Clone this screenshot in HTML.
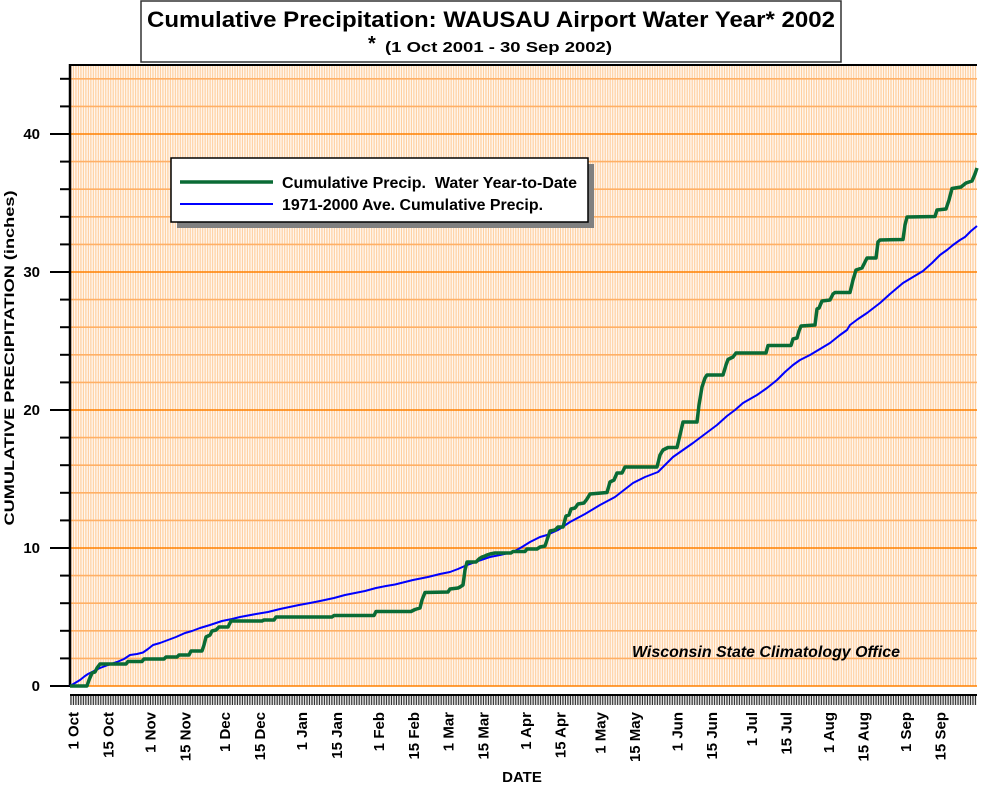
<!DOCTYPE html>
<html><head><meta charset="utf-8"><style>
html,body{margin:0;padding:0;background:#fff;}
svg{display:block;font-family:"Liberation Sans",Arial,sans-serif;}
</style></head><body>
<svg width="982" height="786" viewBox="0 0 982 786" xmlns="http://www.w3.org/2000/svg">
<defs>
<pattern id="vg" patternUnits="userSpaceOnUse" x="70" y="0" width="2.4849" height="10">
<rect x="0" y="0" width="2.4849" height="10" fill="#ffffff"/>
<rect x="0.3" y="0" width="1.35" height="10" fill="#ffcf9f"/>
</pattern>
<pattern id="tk" patternUnits="userSpaceOnUse" x="70" y="0" width="2.4849" height="10">
<rect x="0" y="0" width="2.4849" height="10" fill="#ffffff"/>
<rect x="0.3" y="0" width="1.3" height="10" fill="#303030"/>
</pattern>
</defs>
<rect width="982" height="786" fill="#fff"/>
<!-- plot background -->
<rect x="70" y="65" width="907" height="621" fill="url(#vg)"/>
<!-- horizontal grid -->
<g stroke="#ffb066" stroke-width="1.6">
<line x1="70" x2="977" y1="658.4" y2="658.4"/><line x1="70" x2="977" y1="630.8" y2="630.8"/><line x1="70" x2="977" y1="603.2" y2="603.2"/><line x1="70" x2="977" y1="575.6" y2="575.6"/>
<line x1="70" x2="977" y1="520.4" y2="520.4"/><line x1="70" x2="977" y1="492.8" y2="492.8"/><line x1="70" x2="977" y1="465.2" y2="465.2"/><line x1="70" x2="977" y1="437.6" y2="437.6"/>
<line x1="70" x2="977" y1="382.4" y2="382.4"/><line x1="70" x2="977" y1="354.8" y2="354.8"/><line x1="70" x2="977" y1="327.2" y2="327.2"/><line x1="70" x2="977" y1="299.6" y2="299.6"/>
<line x1="70" x2="977" y1="244.4" y2="244.4"/><line x1="70" x2="977" y1="216.8" y2="216.8"/><line x1="70" x2="977" y1="189.2" y2="189.2"/><line x1="70" x2="977" y1="161.6" y2="161.6"/>
<line x1="70" x2="977" y1="106.4" y2="106.4"/><line x1="70" x2="977" y1="78.8" y2="78.8"/>
</g>
<g stroke="#ff8000" stroke-width="1.6">
<line x1="70" x2="977" y1="686" y2="686"/><line x1="70" x2="977" y1="548" y2="548"/><line x1="70" x2="977" y1="410" y2="410"/><line x1="70" x2="977" y1="272" y2="272"/><line x1="70" x2="977" y1="134" y2="134"/>
</g>
<!-- tick strip -->
<rect x="70" y="696" width="907" height="9" fill="url(#tk)"/>
<line x1="70" x2="977" y1="695" y2="695" stroke="#000" stroke-width="2"/>
<!-- axes -->
<line x1="70" x2="70" y1="64" y2="687" stroke="#000" stroke-width="2.5"/>
<line x1="69" x2="977" y1="65" y2="65" stroke="#000" stroke-width="2"/>
<g stroke="#000" stroke-width="2">
<line x1="50" x2="70" y1="686" y2="686"/><line x1="50" x2="70" y1="548" y2="548"/><line x1="50" x2="70" y1="410" y2="410"/><line x1="50" x2="70" y1="272" y2="272"/><line x1="50" x2="70" y1="134" y2="134"/>
<line x1="60" x2="70" y1="658.4" y2="658.4"/><line x1="60" x2="70" y1="630.8" y2="630.8"/><line x1="60" x2="70" y1="603.2" y2="603.2"/><line x1="60" x2="70" y1="575.6" y2="575.6"/>
<line x1="60" x2="70" y1="520.4" y2="520.4"/><line x1="60" x2="70" y1="492.8" y2="492.8"/><line x1="60" x2="70" y1="465.2" y2="465.2"/><line x1="60" x2="70" y1="437.6" y2="437.6"/>
<line x1="60" x2="70" y1="382.4" y2="382.4"/><line x1="60" x2="70" y1="354.8" y2="354.8"/><line x1="60" x2="70" y1="327.2" y2="327.2"/><line x1="60" x2="70" y1="299.6" y2="299.6"/>
<line x1="60" x2="70" y1="244.4" y2="244.4"/><line x1="60" x2="70" y1="216.8" y2="216.8"/><line x1="60" x2="70" y1="189.2" y2="189.2"/><line x1="60" x2="70" y1="161.6" y2="161.6"/>
<line x1="60" x2="70" y1="106.4" y2="106.4"/><line x1="60" x2="70" y1="78.8" y2="78.8"/>
</g>
<!-- y labels -->
<g font-size="15" font-weight="bold" text-anchor="end" fill="#000">
<text x="40" y="691">0</text><text x="40" y="553">10</text><text x="40" y="415">20</text><text x="40" y="277">30</text><text x="40" y="139">40</text>
</g>
<text transform="translate(14,358) rotate(-90)" font-size="13.5" font-weight="bold" text-anchor="middle" textLength="335" lengthAdjust="spacingAndGlyphs">CUMULATIVE PRECIPITATION (inches)</text>
<!-- x labels -->
<g font-size="15" font-weight="bold" text-anchor="end" fill="#000">
<text transform="translate(78.5,712) rotate(-90)">1 Oct</text>
<text transform="translate(113.3,712) rotate(-90)">15 Oct</text>
<text transform="translate(155.5,712) rotate(-90)">1 Nov</text>
<text transform="translate(190.3,712) rotate(-90)">15 Nov</text>
<text transform="translate(230.1,712) rotate(-90)">1 Dec</text>
<text transform="translate(264.9,712) rotate(-90)">15 Dec</text>
<text transform="translate(307.1,712) rotate(-90)">1 Jan</text>
<text transform="translate(341.9,712) rotate(-90)">15 Jan</text>
<text transform="translate(384.1,712) rotate(-90)">1 Feb</text>
<text transform="translate(418.9,712) rotate(-90)">15 Feb</text>
<text transform="translate(453.7,712) rotate(-90)">1 Mar</text>
<text transform="translate(488.5,712) rotate(-90)">15 Mar</text>
<text transform="translate(530.8,712) rotate(-90)">1 Apr</text>
<text transform="translate(565.5,712) rotate(-90)">15 Apr</text>
<text transform="translate(605.3,712) rotate(-90)">1 May</text>
<text transform="translate(640.1,712) rotate(-90)">15 May</text>
<text transform="translate(682.3,712) rotate(-90)">1 Jun</text>
<text transform="translate(717.1,712) rotate(-90)">15 Jun</text>
<text transform="translate(756.9,712) rotate(-90)">1 Jul</text>
<text transform="translate(791.7,712) rotate(-90)">15 Jul</text>
<text transform="translate(833.9,712) rotate(-90)">1 Aug</text>
<text transform="translate(868.7,712) rotate(-90)">15 Aug</text>
<text transform="translate(910.9,712) rotate(-90)">1 Sep</text>
<text transform="translate(945.7,712) rotate(-90)">15 Sep</text>
</g>
<text x="522" y="782" font-size="15" font-weight="bold" text-anchor="middle">DATE</text>
<!-- series -->
<polyline fill="none" stroke="#0000ff" stroke-width="2" stroke-linejoin="round" points="70,686 75,683 80,680 85,676 88,674 94,671 100,668 108,665 117,662 124,659 130,655 137,654 143,652.5 148,649 153,645 160,643 168,640 176,637 185,633 192,631 200,628 210,625 222,621 232,619 240,617 256,614 268,612 280,609 299,605 310,603 320,601 334,598 345,595 355,593 365,591 376,588 386,586 395,584.5 405,582 413,580 428,577 440,574 450,572 458,569 467,565 478,561 490,557 500,555 513,552 522,547 530,542 540,537 547,535 558,530 570,522 585,514 600,505 615,497 633,483 645,477 658,472 665,465 673,457 683,450 693,443 705,434 717,425 727,416 735,410 743,403 750,399 757,395 767,388 777,380 785,372 793,365 800,360 810,355 820,349 830,343 840,335 847,330 850,325 858,319 867,313 880,303 890,294 903,283 913,277 923,271 932,263 940,255 947,250 953,245 960,240 965,237 971,231 977,226"/>
<polyline fill="none" stroke="#0a6b35" stroke-width="3.5" stroke-linejoin="round" points="70,686 87,686 89,680 92,673 95,672 97,668 100,664 126,664 128,661.5 142,661.5 144,659 164,659 166,657 177,657 179,655 189,655 191,651 202,651 204,645 206,637 210,635 212,631 216,630 219,627 228,627 231,621 262,621 264,620 274,620 276,617 332,617 334,615.5 374,615.5 376,611.5 411,611.5 415,609.5 420,608 422,600 425,592.5 448,592 450,589 458,588 460,587 463,585 465,570 467,562 476,562 479,559 482,557 485,556 487,555 490,554 495,553 511,553 513,551.5 525,551.5 527,549 537,549 540,547 545,546 547,540 550,531 555,530 558,527 563,527 566,516 569,515 571,509 575,508 578,504 584,503 587,499 590,494 607,492.5 610,482 614,480 617,473 622,473 625,467 657,467 660,455 663,450 668,447.5 677,447.5 680,435 683,422 697,422 699,405 702,387 705,378 707,375 723,375 726,365 728,359.5 733,357 736,353 766,353 768,345.5 791,345.5 793,339 797,338 799,331 801,326 815,325 817,309 819,308 822,301 830,300 833,294 835,292.5 850,292.5 853,280 856,270 862,268 865,262 867,258 876,258 878,242 880,240 903,239.5 905,225 907,217 935,216.5 937,210 946,209 949,200 952,188.5 961,187 966,183 972,181 975,174 977,168"/>
<!-- legend -->
<rect x="177" y="164" width="417" height="64" fill="#808080"/>
<rect x="171" y="158" width="417" height="64" fill="#fff" stroke="#000" stroke-width="1.5"/>
<line x1="180" x2="273" y1="182" y2="182" stroke="#0a6b35" stroke-width="3.5"/>
<line x1="180" x2="273" y1="204" y2="204" stroke="#0000ff" stroke-width="2"/>
<text x="282" y="188" font-size="15.5" font-weight="bold" textLength="295" lengthAdjust="spacingAndGlyphs" xml:space="preserve">Cumulative Precip.  Water Year-to-Date</text>
<text x="282" y="210" font-size="15.5" font-weight="bold" textLength="261" lengthAdjust="spacingAndGlyphs">1971-2000 Ave. Cumulative Precip.</text>
<!-- credit -->
<text x="632" y="657" font-size="15.5" font-weight="bold" font-style="italic" textLength="268" lengthAdjust="spacingAndGlyphs">Wisconsin State Climatology Office</text>
<!-- title -->
<rect x="141" y="1" width="700" height="61" fill="#fff" stroke="#333" stroke-width="1.5"/>
<text x="147" y="27" font-size="22" font-weight="bold" textLength="688" lengthAdjust="spacingAndGlyphs">Cumulative Precipitation: WAUSAU Airport Water Year* 2002</text>
<text x="368" y="50" font-size="20" font-weight="bold">*</text>
<text x="385" y="52" font-size="15" font-weight="bold" textLength="227" lengthAdjust="spacingAndGlyphs">(1 Oct 2001 - 30 Sep 2002)</text>
</svg>
</body></html>
